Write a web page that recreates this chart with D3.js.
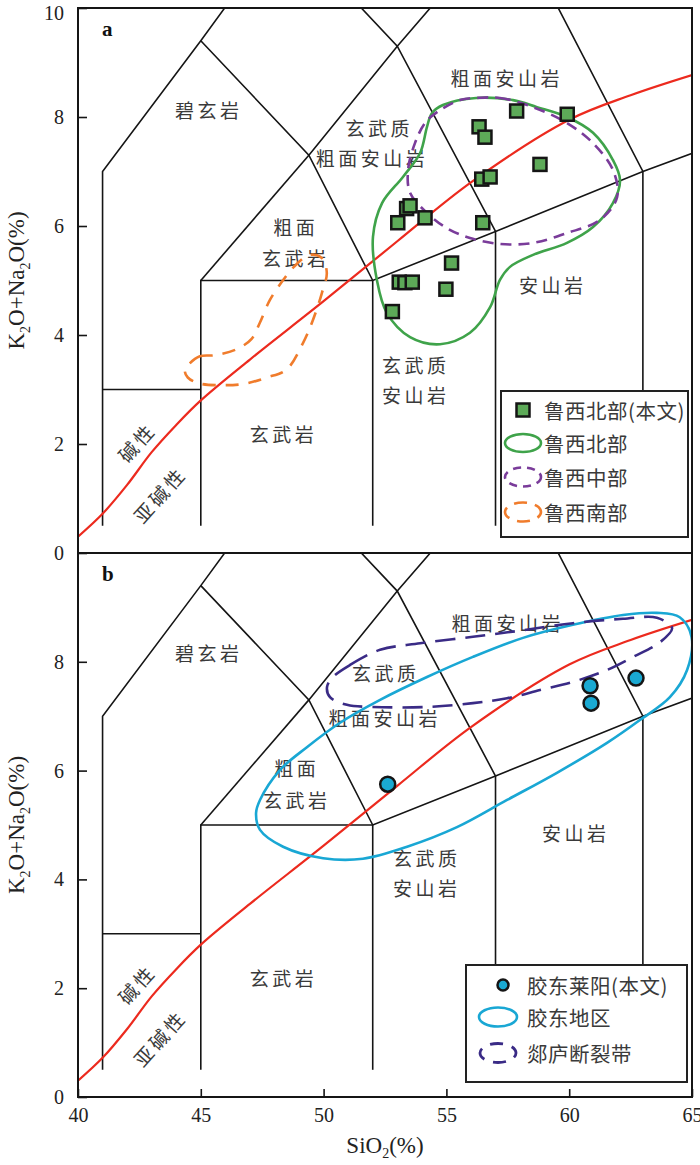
<!DOCTYPE html>
<html><head><meta charset="utf-8">
<script src="https://cdn.jsdelivr.net/npm/d3@7"></script>
<style>body{margin:0;background:#fff}</style></head>
<body><svg id="c" width="700" height="1165"></svg>
<script>
// ---------------- data ----------------
const xTicks = [40, 45, 50, 55, 60, 65];
const yTicksA = [0, 2, 4, 6, 8, 10];
const yTicksB = [0, 2, 4, 6, 8];

// TAS field boundaries (SiO2, K2O+Na2O)
const tasLines = [
  [[41, 0.5], [41, 7], [45, 9.4], [48.4, 11.5]],
  [[41, 3], [45, 3]],
  [[45, 0.5], [45, 5], [52, 5], [57, 5.9], [63, 7], [69, 8]],
  [[45, 5], [49.4, 7.3]],
  [[45, 9.4], [49.4, 7.3], [52, 5]],
  [[49.4, 7.3], [53, 9.3], [57.6, 11.7]],
  [[48.4, 11.5], [53, 9.3], [57, 5.9]],
  [[52, 0.5], [52, 5]],
  [[57, 0.5], [57, 5.9]],
  [[63, 0.5], [63, 7], [57.6, 11.7]]
];

// Irvine & Baragar alkaline / subalkaline divide
const alkSiO2 = [40, 41, 42, 43, 44, 45, 47, 50, 53, 56, 60, 62.5, 65];
const alkTotal = [0.3, 0.72, 1.25, 1.85, 2.35, 2.8, 3.55, 4.62, 5.72, 6.8, 7.95, 8.4, 8.77];

// panel a samples: 鲁西北部(本文)
const luxiSiO2 = [57.86, 59.92, 56.33, 56.57, 58.81, 56.44, 56.78, 53.38, 53.52, 53.02, 54.13, 56.48, 55.21, 53.08, 53.31, 53.61, 54.98, 52.80];
const luxiAlk  = [8.11, 8.05, 7.82, 7.63, 7.13, 6.86, 6.90, 6.32, 6.37, 6.06, 6.15, 6.06, 5.32, 4.97, 4.96, 4.97, 4.84, 4.43];

// panel b samples: 胶东莱阳(本文)
const laiyangSiO2 = [52.61, 60.85, 60.89, 62.72];
const laiyangAlk  = [5.75, 7.56, 7.24, 7.70];

// field outlines
const luxiNorthX = [56.21, 57.71, 58.69, 59.91, 60.97, 61.78, 62.07, 61.78, 60.97, 59.91, 58.53, 57.59, 57.18, 56.78, 55.96, 54.74, 53.52, 52.58, 52.17, 52.01, 52.38, 53.23, 53.93, 54.21, 54.41, 54.86];
const luxiNorthY = [8.35, 8.31, 8.18, 8.00, 7.71, 7.21, 6.84, 6.42, 5.98, 5.69, 5.47, 5.25, 5.01, 4.51, 4.04, 3.83, 3.96, 4.40, 5.01, 5.80, 6.42, 6.90, 7.34, 7.82, 8.07, 8.22];
const luxiMidX = [56.25, 57.18, 58.53, 59.91, 60.97, 61.78, 61.95, 61.25, 59.91, 58.53, 57.18, 55.96, 55.02, 54.21, 53.52, 53.44, 53.72, 54.13, 54.62, 55.55];
const luxiMidY = [8.35, 8.35, 8.18, 7.89, 7.52, 7.03, 6.53, 6.11, 5.87, 5.69, 5.67, 5.78, 5.96, 6.24, 6.61, 7.03, 7.52, 7.89, 8.09, 8.31];
const luxiSouthX = [44.55, 44.96, 45.57, 46.46, 47.07, 47.40, 47.81, 48.34, 48.79, 49.44, 49.93, 50.13, 49.93, 49.57, 49.16, 48.50, 47.69, 46.71, 45.86, 44.96, 44.47, 44.35];
const luxiSouthY = [3.48, 3.61, 3.63, 3.74, 3.93, 4.22, 4.64, 5.00, 5.25, 5.47, 5.41, 5.14, 4.77, 4.28, 3.85, 3.37, 3.22, 3.10, 3.08, 3.11, 3.22, 3.35];
const jiaodongX = [47.41, 48.22, 49.32, 50.67, 52.30, 54.21, 56.08, 58.12, 60.15, 62.19, 63.57, 64.50, 64.98, 64.80, 64.10, 62.88, 61.54, 59.50, 57.47, 55.43, 53.40, 51.60, 49.98, 48.35, 47.41, 47.25];
const jiaodongY = [5.46, 6.01, 6.43, 6.88, 7.30, 7.72, 8.09, 8.44, 8.68, 8.86, 8.90, 8.82, 8.46, 7.85, 7.35, 6.93, 6.51, 5.96, 5.46, 4.96, 4.60, 4.38, 4.39, 4.60, 4.91, 5.22];
const tanluX = [50.38, 51.07, 52.30, 53.93, 56.08, 58.12, 60.15, 62.19, 63.57, 64.19, 63.70, 62.60, 61.54, 60.15, 58.81, 57.47, 56.08, 54.21, 52.01, 50.95, 50.26, 50.14];
const tanluY = [7.72, 7.94, 8.22, 8.34, 8.46, 8.58, 8.71, 8.79, 8.81, 8.62, 8.36, 8.09, 7.85, 7.63, 7.48, 7.33, 7.24, 7.17, 7.17, 7.21, 7.35, 7.54];

// texts
const rockNames = ["碧玄岩", "粗面", "玄武岩", "玄武质", "粗面安山岩", "安山岩", "碱性", "亚碱性"];
const legendA = ["鲁西北部(本文)", "鲁西北部", "鲁西中部", "鲁西南部"];
const legendB = ["胶东莱阳(本文)", "胶东地区", "郯庐断裂带"];

// ---------------- drawing ----------------
const svg = d3.select("#c");
const L = 78, R = 692;
const x = d3.scaleLinear().domain([40, 65]).range([L, R]);
const yA = d3.scaleLinear().domain([0, 10]).range([553, 8]);
const yB = d3.scaleLinear().domain([0, 10]).range([1097, 553]);

const CJK = "'Noto Sans CJK SC','Noto Sans CJK JP',sans-serif";
const SERIF = "'Liberation Serif','Times New Roman',serif";
const textCol = "#3a3a3a";

const C = {
  green: "#3FA34A", purple: "#7A3C9A", orange: "#F07C2C",
  cyan: "#19A7D4", navy: "#3A2B86", red: "#EC2A1E",
  sq: "#5DAA58", dot: "#1AA9D2"
};

function zip(a, b) { return a.map((v, i) => [v, b[i]]); }

function panel(y, id, opts) {
  const g = svg.append("g");
  const top = y(10), bot = y(0);
  const clip = svg.append("clipPath").attr("id", "clip" + id);
  clip.append("rect").attr("x", L).attr("y", top).attr("width", R - L).attr("height", bot - top);
  const pg = g.append("g").attr("clip-path", `url(#clip${id})`);

  // labels
  const lab = (t, sx, sy, rot) => {
    const tx = x(sx), ty = y(sy);
    const el = pg.append("text").text(t)
      .attr("x", tx).attr("y", ty)
      .attr("text-anchor", "middle").attr("dominant-baseline", "central")
      .attr("font-family", CJK).attr("font-size", 19).attr("fill", textCol)
      .attr("letter-spacing", "3.5px").attr("dx", 1.75);
    if (rot) el.attr("transform", `rotate(${rot},${tx},${ty})`);
  };
  opts.labels.forEach(d => lab(rockNames[d[0]], d[1], d[2], d[3]));

  // TAS lines
  const line = d3.line().x(d => x(d[0])).y(d => y(d[1]));
  pg.selectAll(".tas").data(tasLines).join("path")
    .attr("d", line).attr("fill", "none").attr("stroke", "#151515").attr("stroke-width", 1.6);

  // alkaline divide
  const curve = d3.line().x(d => x(d[0])).y(d => y(d[1])).curve(d3.curveCatmullRom.alpha(0.5));
  pg.append("path").attr("d", curve(zip(alkSiO2, alkTotal)))
    .attr("fill", "none").attr("stroke", C.red).attr("stroke-width", 2.2);

  // outlines
  const closed = d3.line().x(d => x(d[0])).y(d => y(d[1])).curve(d3.curveCatmullRomClosed.alpha(0.5));
  opts.outlines.forEach(o => {
    pg.append("path").attr("d", closed(zip(o.xs, o.ys)))
      .attr("fill", "none").attr("stroke", o.color).attr("stroke-width", 2.6)
      .attr("stroke-dasharray", o.dash || null);
  });

  // points
  opts.points(pg);

  // legend
  opts.legend(g);

  // frame
  g.append("rect").attr("x", L).attr("y", top).attr("width", R - L).attr("height", bot - top)
    .attr("fill", "none").attr("stroke", "#151515").attr("stroke-width", 2);

  // y axis
  const ax = d3.axisLeft(y).tickValues(opts.yt).tickSize(-9).tickPadding(14).tickFormat(d3.format("d"));
  const ag = g.append("g").attr("transform", `translate(${L},0)`).call(ax);
  ag.select(".domain").remove();
  ag.selectAll("line").attr("stroke", "#151515").attr("stroke-width", 1.6);
  ag.selectAll("text").attr("font-family", SERIF).attr("font-size", 20).attr("fill", "#222");
  ag.selectAll(".tick").filter(d => d === 10).select("text").attr("dy", "0.55em");

  // panel letter
  g.append("text").text(id).attr("x", 102).attr("y", top + 28)
    .attr("font-family", SERIF).attr("font-weight", "bold").attr("font-size", 21).attr("fill", "#111");

  // y title
  const cy = (top + bot) / 2;
  const yt = g.append("text").attr("transform", `translate(24,${cy}) rotate(-90)`)
    .attr("text-anchor", "middle").attr("font-family", SERIF).attr("font-size", 23).attr("fill", "#222");
  yt.append("tspan").text("K");
  yt.append("tspan").text("2").attr("font-size", 14).attr("dy", 6);
  yt.append("tspan").text("O+Na").attr("dy", -6);
  yt.append("tspan").text("2").attr("font-size", 14).attr("dy", 6);
  yt.append("tspan").text("O(%)").attr("dy", -6);
  return g;
}

function legendBox(g, x0, y0, w, h) {
  g.append("rect").attr("x", x0).attr("y", y0).attr("width", w).attr("height", h)
    .attr("fill", "#fff").attr("stroke", "#222").attr("stroke-width", 2);
}
function legendText(g, t, tx, ty) {
  g.append("text").text(t).attr("x", tx).attr("y", ty).attr("dominant-baseline", "central")
    .attr("font-family", CJK).attr("font-size", 20.5).attr("fill", textCol).attr("letter-spacing", "0.5px");
}

// ---- panel a ----
panel(yA, "a", {
  yt: yTicksA,
  labels: [
    [0, 45.25, 8.13], [1, 48.8, 6.0], [2, 48.8, 5.43],
    [3, 52.2, 7.8], [4, 51.9, 7.25], [4, 57.39, 8.73],
    [5, 59.26, 4.92], [3, 53.68, 3.45], [5, 53.68, 2.9],
    [2, 48.3, 2.2], [6, 42.32, 2.02, -48], [7, 43.26, 1.06, -48]
  ],
  outlines: [
    { xs: luxiNorthX, ys: luxiNorthY, color: C.green },
    { xs: luxiMidX, ys: luxiMidY, color: C.purple, dash: "11 7" },
    { xs: luxiSouthX, ys: luxiSouthY, color: C.orange, dash: "13 10" }
  ],
  points: pg => {
    pg.selectAll(".sq").data(zip(luxiSiO2, luxiAlk)).join("rect")
      .attr("x", d => x(d[0]) - 6.5).attr("y", d => yA(d[1]) - 6.5)
      .attr("width", 13).attr("height", 13)
      .attr("fill", C.sq).attr("stroke", "#151515").attr("stroke-width", 2.5);
  },
  legend: g => {
    legendBox(g, 501, 391, 187, 146);
    g.append("rect").attr("x", 516.5).attr("y", 403.5).attr("width", 13).attr("height", 13)
      .attr("fill", C.sq).attr("stroke", "#151515").attr("stroke-width", 2.5);
    g.append("ellipse").attr("cx", 523).attr("cy", 443).attr("rx", 18).attr("ry", 9)
      .attr("fill", "none").attr("stroke", C.green).attr("stroke-width", 2.6);
    g.append("ellipse").attr("cx", 523).attr("cy", 477).attr("rx", 18).attr("ry", 9.5)
      .attr("fill", "none").attr("stroke", C.purple).attr("stroke-width", 2.6).attr("stroke-dasharray", "8 6");
    g.append("ellipse").attr("cx", 523).attr("cy", 512).attr("rx", 18).attr("ry", 9.5)
      .attr("fill", "none").attr("stroke", C.orange).attr("stroke-width", 2.6).attr("stroke-dasharray", "13 8").attr("stroke-dashoffset", 6);
    legendA.forEach((t, i) => legendText(g, t, 544, [410, 443, 477, 512][i]));
  }
});

// ---- panel b ----
panel(yB, "b", {
  yt: yTicksB,
  labels: [
    [0, 45.25, 8.18], [1, 48.84, 6.05], [2, 48.84, 5.46],
    [3, 52.46, 7.81], [4, 52.42, 6.97], [4, 57.43, 8.73],
    [5, 60.2, 4.87], [3, 54.13, 4.41], [5, 54.13, 3.86],
    [2, 48.3, 2.2], [6, 42.32, 2.06, -48], [7, 43.26, 1.07, -48]
  ],
  outlines: [
    { xs: jiaodongX, ys: jiaodongY, color: C.cyan },
    { xs: tanluX, ys: tanluY, color: C.navy, dash: "20 10" }
  ],
  points: pg => {
    pg.selectAll(".dot").data(zip(laiyangSiO2, laiyangAlk)).join("circle")
      .attr("cx", d => x(d[0])).attr("cy", d => yB(d[1])).attr("r", 7.5)
      .attr("fill", C.dot).attr("stroke", "#151515").attr("stroke-width", 2.5);
  },
  legend: g => {
    legendBox(g, 466, 965, 221, 117);
    g.append("circle").attr("cx", 503).attr("cy", 985).attr("r", 5.5)
      .attr("fill", C.dot).attr("stroke", "#151515").attr("stroke-width", 2.5);
    g.append("ellipse").attr("cx", 498).attr("cy", 1017).attr("rx", 19).attr("ry", 9.5)
      .attr("fill", "none").attr("stroke", C.cyan).attr("stroke-width", 2.6);
    g.append("ellipse").attr("cx", 498).attr("cy", 1053).attr("rx", 18).attr("ry", 9.5)
      .attr("fill", "none").attr("stroke", C.navy).attr("stroke-width", 2.8).attr("stroke-dasharray", "13 9").attr("stroke-dashoffset", 8);
    legendB.forEach((t, i) => legendText(g, t, 527, [985, 1017, 1053][i]));
  }
});

// x axis (bottom of panel b)
const xa = d3.axisBottom(x).tickValues(xTicks).tickSize(-8).tickPadding(11).tickFormat(d3.format("d"));
const xg = svg.append("g").attr("transform", "translate(0,1097)").call(xa);
xg.select(".domain").remove();
xg.selectAll("line").attr("stroke", "#151515").attr("stroke-width", 1.6);
xg.selectAll("text").attr("font-family", SERIF).attr("font-size", 20).attr("fill", "#222");

const xt = svg.append("text").attr("x", 385).attr("y", 1153).attr("text-anchor", "middle")
  .attr("font-family", SERIF).attr("font-size", 23).attr("fill", "#222");
xt.append("tspan").text("SiO");
xt.append("tspan").text("2").attr("font-size", 14).attr("dy", 5);
xt.append("tspan").text("(%)").attr("dy", -5);
</script>
</body></html>
